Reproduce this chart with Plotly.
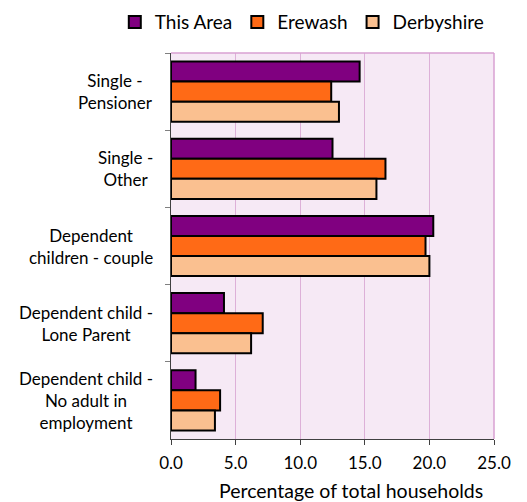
import plotly.graph_objects as go

categories = ["Single -<br>Pensioner", "Single -<br>Other", "Dependent<br>children - couple",
              "Dependent child -<br>Lone Parent", "Dependent child -<br>No adult in<br>employment"]
this_area = [14.6, 12.5, 20.3, 4.1, 1.9]
erewash = [12.4, 16.6, 19.7, 7.1, 3.8]
derbyshire = [13.0, 15.9, 20.0, 6.2, 3.4]
series_names = ["This Area", "Erewash", "Derbyshire"]
colors = ["#800080", "#FF6A16", "#FAC090"]
x_ticks = [0, 5, 10, 15, 20, 25]

FONT = "Lato"
fig = go.Figure()
for name, vals, c in zip(series_names, [this_area, erewash, derbyshire], colors):
    fig.add_trace(go.Bar(
        y=categories, x=vals, name=name, orientation="h",
        marker=dict(color=c, line=dict(color="black", width=2)),
    ))

# page body has an 8px margin, so the figure is 8px smaller and shifted
fig.update_layout(
    width=519, height=494,
    margin=dict(l=163, r=33, t=45, b=63, autoexpand=False),
    paper_bgcolor="white", plot_bgcolor="#F6E9F5",
    barmode="group", bargap=0.22, bargroupgap=0,
    font=dict(family=FONT, size=17, color="black"),
    showlegend=True,
    legend=dict(orientation="h", x=-0.174, xanchor="left", y=1.080, yanchor="middle",
                traceorder="normal", font=dict(size=19), itemwidth=30),
    xaxis=dict(range=[0, 25], tickvals=x_ticks, ticktext=[f"{v:.1f}" for v in x_ticks],
               showgrid=True, gridcolor="#DDB0D8", gridwidth=1,
               showline=True, linecolor="#404040", linewidth=1, mirror=False,
               ticks="outside", ticklen=5, tickcolor="#404040",
               ticklabelstandoff=4,
               tickfont=dict(size=17), zeroline=False),
    yaxis=dict(autorange="reversed", showticklabels=False, showgrid=False,
               showline=True, linecolor="#404040", linewidth=1,
               ticks="outside", ticklen=5, tickcolor="#808080", tickson="boundaries"),
)

# top and right plot border in pink
fig.add_shape(type="line", xref="paper", yref="paper", x0=0, x1=1, y0=1, y1=1,
              line=dict(color="#D9A0D2", width=1.5))
fig.add_shape(type="line", xref="paper", yref="paper", x0=1, x1=1, y0=0, y1=1,
              line=dict(color="#D9A0D2", width=1.5))
# outer border on right edge
fig.add_shape(type="line", xref="paper", yref="paper", x0=1.097, x1=1.097, y0=-0.2, y1=1.2,
              line=dict(color="#D9A0D2", width=1.5))

# category labels: centred text block, right anchored
for cat in categories:
    fig.add_annotation(x=0, xref="paper", y=cat, yref="y", text=cat,
                       xanchor="right", yanchor="middle", align="center", showarrow=False,
                       xshift=-16, font=dict(size=17))

fig.add_annotation(x=0.5, xref="paper", y=0, yref="paper", yanchor="middle",
                   text="Percentage of total households", showarrow=False,
                   xshift=18, yshift=-51, font=dict(size=19.5))

fig.write_html("out.html")
